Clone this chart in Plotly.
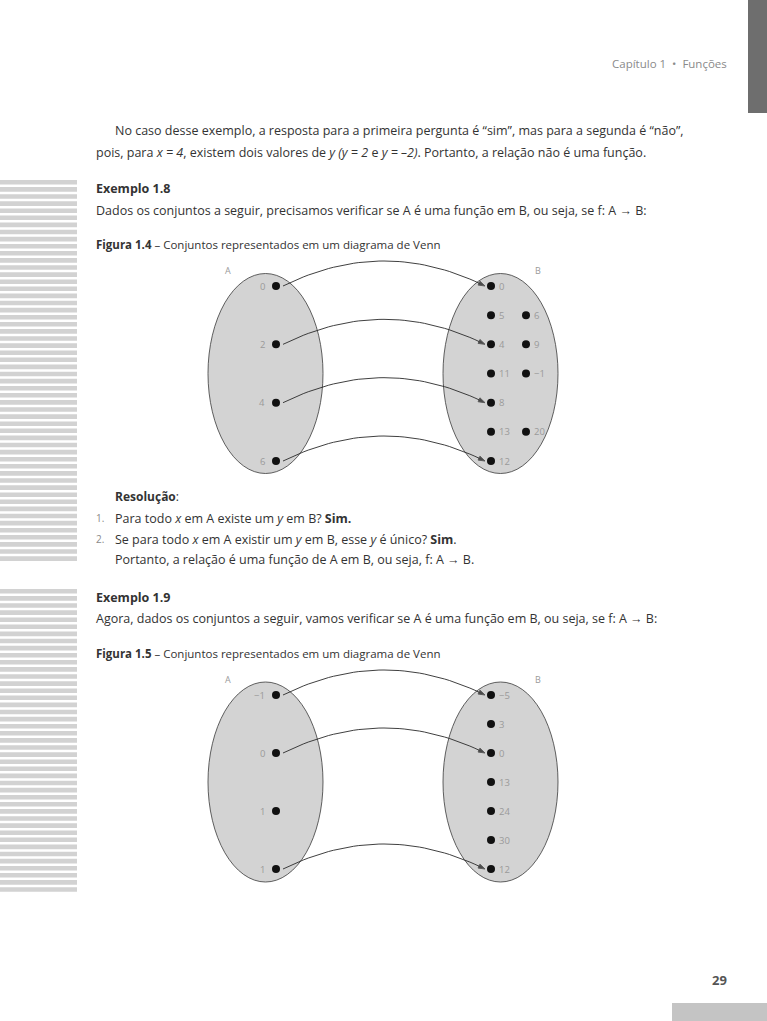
import plotly.graph_objects as go

# ---- data -------------------------------------------------------------
fig14_a = ["0", "2", "4", "6"]
fig14_b = ["0", "5", "6", "4", "9", "11", "−1", "8", "13", "20", "12"]
fig14_map = [(0, 0), (1, 3), (2, 7), (3, 10)]      # index in A -> index in B

fig15_a = ["−1", "0", "1", "1"]
fig15_b = ["−5", "3", "0", "13", "24", "30", "12"]
fig15_map = [(0, 0), (1, 2), (3, 6)]

# slots (row, col) used for the elements of B
fig14_b_slots = [(0, 0), (1, 0), (1, 1), (2, 0), (2, 1), (3, 0), (3, 1), (4, 0), (5, 0), (5, 1), (6, 0)]
fig15_b_slots = [(0, 0), (1, 0), (2, 0), (3, 0), (4, 0), (5, 0), (6, 0)]
a_rows = [0, 2, 4, 6]

W, H = 767, 1021
TXT = "#333333"
BODY = "Open Sans"
BODY_SIZE = 12.5

fig = go.Figure()
shapes = []
annots = []


def text(x, y, s, size=BODY_SIZE, color=TXT, anchor="left", family=BODY):
    annots.append(dict(x=x, y=y, xref="x", yref="y", text=s, showarrow=False,
                       xanchor=anchor, yanchor="middle", borderpad=0,
                       font=dict(family=family, size=size, color=color)))


def venn(y0, step, a_labels, b_labels, b_slots, mapping):
    ax, bx0, bx1 = 276, 491, 526
    cy = y0 + 3 * step
    for cx in (265.5, 500.5):
        shapes.append(dict(type="circle", xref="x", yref="y", x0=cx - 57.5, x1=cx + 57.5,
                           y0=cy - 100, y1=cy + 100, fillcolor="#d3d3d3",
                           line=dict(color="#3a3a3a", width=0.8), layer="below"))
    text(228, y0 - 16, "A", size=9, color="#9a9a9a", anchor="center")
    text(538, y0 - 16, "B", size=9, color="#9a9a9a", anchor="center")

    ay = [y0 + r * step for r in a_rows]
    bx = [bx0 if c == 0 else bx1 for r, c in b_slots]
    by = [y0 + r * step for r, c in b_slots]

    # arrows (quadratic curves)
    for ia, ib in mapping:
        xs, ys = [], []
        p0 = (ax + 7, ay[ia])
        p2 = (bx[ib] - 6, by[ib])
        pc = ((p0[0] + p2[0]) / 2, min(p0[1], p2[1]) - 50)
        n = 40
        for k in range(n + 1):
            t = k / n
            xs.append((1 - t) ** 2 * p0[0] + 2 * (1 - t) * t * pc[0] + t ** 2 * p2[0])
            ys.append((1 - t) ** 2 * p0[1] + 2 * (1 - t) * t * pc[1] + t ** 2 * p2[1])
        fig.add_trace(go.Scatter(x=xs, y=ys, mode="lines+markers",
                                 line=dict(color="#2a2a2a", width=0.9),
                                 marker=dict(symbol=["circle"] * n + ["arrow"],
                                             size=[0] * n + [7], angleref="previous",
                                             color="#111"),
                                 hoverinfo="skip", showlegend=False))

    fig.add_trace(go.Scatter(x=[ax] * len(a_labels), y=ay, mode="markers",
                             marker=dict(size=8, color="#111"), showlegend=False))
    fig.add_trace(go.Scatter(x=bx, y=by, mode="markers",
                             marker=dict(size=8, color="#111"), showlegend=False))
    for lab, y in zip(a_labels, ay):
        text(ax - 10, y, lab, size=9.5, color="#9a9a9a", anchor="right")
    for lab, x, y in zip(b_labels, bx, by):
        text(x + 7, y, lab, size=9.5, color="#9a9a9a")


# ---- page decorations -------------------------------------------------
for y_start, y_end in ((180, 563), (589, 893)):
    y = y_start
    while y < y_end:
        shapes.append(dict(type="rect", xref="x", yref="y", x0=0, x1=77, y0=y, y1=y + 4.6,
                           fillcolor="#d2d2d2", line=dict(width=0), layer="below"))
        y += 7.1
shapes.append(dict(type="rect", xref="x", yref="y", x0=748, x1=W, y0=0, y1=113,
                   fillcolor="#6e6e6e", line=dict(width=0)))
shapes.append(dict(type="rect", xref="x", yref="y", x0=672, x1=W, y0=1003, y1=H,
                   fillcolor="#c4c4c4", line=dict(width=0)))

text(728, 63, "Capítulo 1  •  Funções", size=11.5, color="#8a8a8a", anchor="right")
text(728, 980, "<b>29</b>", size=13, color="#555555", anchor="right")

# ---- body text --------------------------------------------------------
text(114, 130, "No caso desse exemplo, a resposta para a primeira pergunta é “sim”, mas para a segunda é “não”,")
text(95, 152, "pois, para <i>x = 4</i>, existem dois valores de <i>y (y = 2</i> e <i>y = –2)</i>. "
              "Portanto, a relação não é uma função.")
text(95, 188, "<b>Exemplo 1.8</b>")
text(95, 210, "Dados os conjuntos a seguir, precisamos verificar se A é uma função em B, ou seja, se f: A → B:")
text(95, 244, "<b>Figura 1.4</b> – Conjuntos representados em um diagrama de Venn", size=11.5)

venn(286, 29.17, fig14_a, fig14_b, fig14_b_slots, fig14_map)

text(114, 496, "<b>Resolução</b>:", size=12)
text(95, 518, "1.", size=10, color="#8a8a8a")
text(114, 518, "Para todo <i>x</i> em A existe um <i>y</i> em B? <b>Sim.</b>")
text(95, 539, "2.", size=10, color="#8a8a8a")
text(114, 539, "Se para todo <i>x</i> em A existir um <i>y</i> em B, esse <i>y</i> é único? <b>Sim</b>.")
text(114, 559, "Portanto, a relação é uma função de A em B, ou seja, f: A → B.")
text(95, 597, "<b>Exemplo 1.9</b>")
text(95, 618, "Agora, dados os conjuntos a seguir, vamos verificar se A é uma função em B, ou seja, se f: A → B:")
text(95, 653, "<b>Figura 1.5</b> – Conjuntos representados em um diagrama de Venn", size=11.5)

venn(695, 29, fig15_a, fig15_b, fig15_b_slots, fig15_map)

fig.update_layout(width=W, height=H, margin=dict(l=0, r=0, t=0, b=0),
                  paper_bgcolor="white", plot_bgcolor="white",
                  shapes=shapes, annotations=annots, showlegend=False,
                  xaxis=dict(range=[0, W], visible=False, fixedrange=True),
                  yaxis=dict(range=[H, 0], visible=False, fixedrange=True))
fig.write_html("out.html", config={"displayModeBar": False},
               post_script="document.body.style.margin='0px';")
